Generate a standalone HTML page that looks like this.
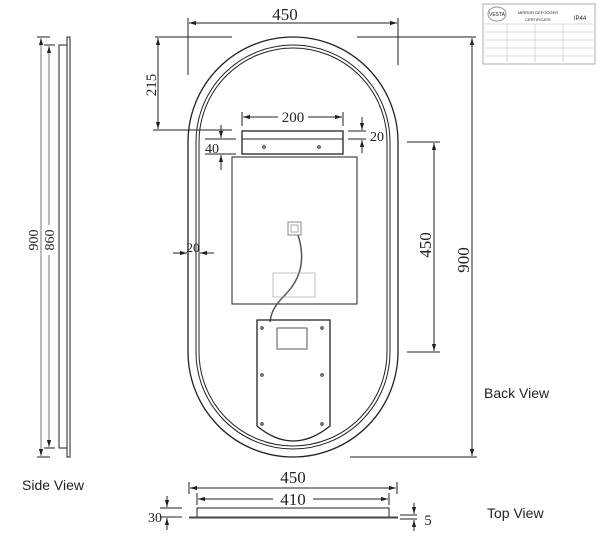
<!DOCTYPE html>
<html><head><style>
body{margin:0;background:#fff;}
svg{display:block;}
text{font-family:"Liberation Serif",serif;fill:#222;}
.s{font-family:"Liberation Sans",sans-serif;}
</style></head><body>
<svg width="600" height="541" viewBox="0 0 600 541" xmlns="http://www.w3.org/2000/svg">
<defs>
<marker id="a" viewBox="0 0 10 10" refX="10" refY="5" markerWidth="7" markerHeight="7" orient="auto-start-reverse"><path d="M0,2L10,5L0,8z" fill="#222"/></marker>
</defs>
<g stroke="#222" fill="none" stroke-width="1">
<rect x="188" y="37" width="210" height="420" rx="105" ry="105" stroke-width="1.3"/>
<rect x="196" y="45" width="194" height="404" rx="97" ry="97"/>
<rect x="199" y="48" width="188" height="398" rx="94" ry="94"/>
<line x1="188" y1="18" x2="188" y2="75"/><line x1="398" y1="18" x2="398" y2="65"/>
<line x1="189" y1="23" x2="397" y2="23" marker-start="url(#a)" marker-end="url(#a)"/>
<line x1="155" y1="37" x2="232" y2="37"/><line x1="357" y1="37" x2="476" y2="37"/>
<line x1="158" y1="38" x2="158" y2="129" marker-start="url(#a)" marker-end="url(#a)"/>
<line x1="153" y1="130" x2="232" y2="130"/>
<line x1="472" y1="38" x2="472" y2="456" marker-start="url(#a)" marker-end="url(#a)"/>
<line x1="350" y1="457" x2="477" y2="457"/>
<line x1="407" y1="142" x2="440" y2="142"/><line x1="407" y1="352" x2="440" y2="352"/>
<line x1="434" y1="143" x2="434" y2="351" marker-start="url(#a)" marker-end="url(#a)"/>
<rect x="242" y="131" width="101" height="23" stroke-width="1.3"/>
<line x1="242" y1="139" x2="343" y2="139"/>
<circle cx="264" cy="147" r="1.3"/><circle cx="319" cy="147" r="1.3"/>
<line x1="242" y1="112" x2="242" y2="126"/><line x1="343" y1="112" x2="343" y2="126"/>
<line x1="243" y1="117" x2="278" y2="117" marker-start="url(#a)"/><line x1="308" y1="117" x2="342" y2="117" marker-end="url(#a)"/>
<line x1="205" y1="139" x2="236" y2="139"/><line x1="205" y1="154" x2="236" y2="154"/>
<line x1="221" y1="125" x2="221" y2="138" marker-end="url(#a)"/><line x1="221" y1="170" x2="221" y2="155" marker-end="url(#a)"/>
<line x1="348" y1="131" x2="366" y2="131"/><line x1="348" y1="139" x2="366" y2="139"/>
<line x1="362" y1="117" x2="362" y2="130" marker-end="url(#a)"/><line x1="362" y1="153" x2="362" y2="140" marker-end="url(#a)"/>
<rect x="232" y="157" width="125" height="147"/>
<rect x="288" y="222" width="13" height="13" stroke="#888"/>
<rect x="291" y="225" width="7" height="7" stroke="#aaa"/>
<path d="M298,235 C306,260 300,280 285,295 C272,308 271,315 270,322" stroke="#555" stroke-width="1.5"/>
<rect x="273" y="273" width="42" height="24" stroke="#999" stroke-width="0.6"/>
<path d="M257,320 L330,320 L330,426 Q293,456 257,426 Z" stroke-width="1.3"/>
<rect x="277" y="328" width="30" height="21" stroke="#555"/>
<circle cx="262" cy="328" r="1.2"/><circle cx="322" cy="328" r="1.2"/>
<circle cx="262" cy="375" r="1.2"/><circle cx="322" cy="375" r="1.2"/>
<circle cx="262" cy="424" r="1.2"/><circle cx="322" cy="424" r="1.2"/>
<line x1="173" y1="253" x2="187" y2="253" marker-end="url(#a)"/><line x1="214" y1="253" x2="200" y2="253" marker-end="url(#a)"/>
<line x1="189" y1="482" x2="189" y2="494"/><line x1="397" y1="482" x2="397" y2="494"/>
<line x1="190" y1="488" x2="396" y2="488" marker-start="url(#a)" marker-end="url(#a)"/>
<line x1="197" y1="493" x2="197" y2="505"/><line x1="389" y1="493" x2="389" y2="505"/>
<line x1="198" y1="499" x2="273" y2="499" marker-start="url(#a)"/><line x1="313" y1="499" x2="388" y2="499" marker-end="url(#a)"/>
<rect x="197" y="508" width="192" height="9"/>
<line x1="189" y1="517.5" x2="398" y2="517.5" stroke-width="2" stroke="#444"/>
<line x1="160" y1="508" x2="182" y2="508"/><line x1="160" y1="517" x2="182" y2="517"/>
<line x1="167" y1="496" x2="167" y2="507" marker-end="url(#a)"/><line x1="167" y1="530" x2="167" y2="518" marker-end="url(#a)"/>
<line x1="400" y1="515" x2="417" y2="515"/><line x1="400" y1="519" x2="417" y2="519"/>
<line x1="414" y1="503" x2="414" y2="514" marker-end="url(#a)"/><line x1="414" y1="531" x2="414" y2="520" marker-end="url(#a)"/>
<rect x="67" y="37" width="3" height="420"/>
<rect x="59" y="45" width="8" height="403"/>
<line x1="37" y1="37" x2="50" y2="37"/><line x1="37" y1="457" x2="50" y2="457"/>
<line x1="44" y1="45" x2="55" y2="45"/><line x1="44" y1="448" x2="55" y2="448"/>
<line x1="41" y1="38" x2="41" y2="456" stroke="#777" marker-start="url(#a)" marker-end="url(#a)"/>
<line x1="49" y1="46" x2="49" y2="225" stroke="#777" marker-start="url(#a)"/><line x1="49" y1="255" x2="49" y2="447" stroke="#777" marker-end="url(#a)"/>
<rect x="483" y="4" width="112" height="60" stroke="#999" stroke-width="0.8"/>
<g stroke="#bbb" stroke-width="0.6">
<line x1="485" y1="24" x2="593" y2="24"/><line x1="485" y1="32" x2="593" y2="32"/><line x1="485" y1="40" x2="593" y2="40"/><line x1="485" y1="48" x2="593" y2="48"/><line x1="485" y1="56" x2="593" y2="56"/>
<line x1="507" y1="24" x2="507" y2="62"/><line x1="535" y1="24" x2="535" y2="62"/><line x1="563" y1="24" x2="563" y2="62"/>
</g>
<ellipse cx="497" cy="14" rx="9" ry="7" stroke="#999"/>
</g>
<text x="285" y="20" font-size="17" text-anchor="middle">450</text>
<text transform="translate(156,85) rotate(-90)" font-size="15" text-anchor="middle">215</text>
<text x="293" y="122" font-size="15" text-anchor="middle">200</text>
<text x="212" y="153" font-size="14" text-anchor="middle">40</text>
<text x="377" y="141" font-size="14" text-anchor="middle">20</text>
<text x="193" y="252" font-size="13" text-anchor="middle">20</text>
<text transform="translate(431,245) rotate(-90)" font-size="17" text-anchor="middle">450</text>
<text transform="translate(469,260) rotate(-90)" font-size="17" text-anchor="middle">900</text>
<text x="293" y="483" font-size="17" text-anchor="middle">450</text>
<text x="293" y="505" font-size="17" text-anchor="middle">410</text>
<text x="155" y="522" font-size="14" text-anchor="middle">30</text>
<text x="428" y="525" font-size="15" text-anchor="middle">5</text>
<text transform="translate(38,240) rotate(-90)" font-size="14" text-anchor="middle">900</text>
<text transform="translate(54,240) rotate(-90)" font-size="14" text-anchor="middle">860</text>
<text class="s" x="22" y="490" font-size="14">Side View</text>
<text class="s" x="484" y="398" font-size="14">Back View</text>
<text class="s" x="487" y="518" font-size="14">Top View</text>
<text class="s" x="538" y="14" font-size="4" text-anchor="middle" fill="#666">MIRROR DEFOGGER</text>
<text class="s" x="538" y="21" font-size="4" text-anchor="middle" fill="#666">CERTIFICATE</text>
<text class="s" x="497" y="16" font-size="5" text-anchor="middle" fill="#888">VESTA</text>
<text class="s" x="580" y="20" font-size="6" text-anchor="middle" fill="#666">IP44</text>
</svg>
</body></html>
